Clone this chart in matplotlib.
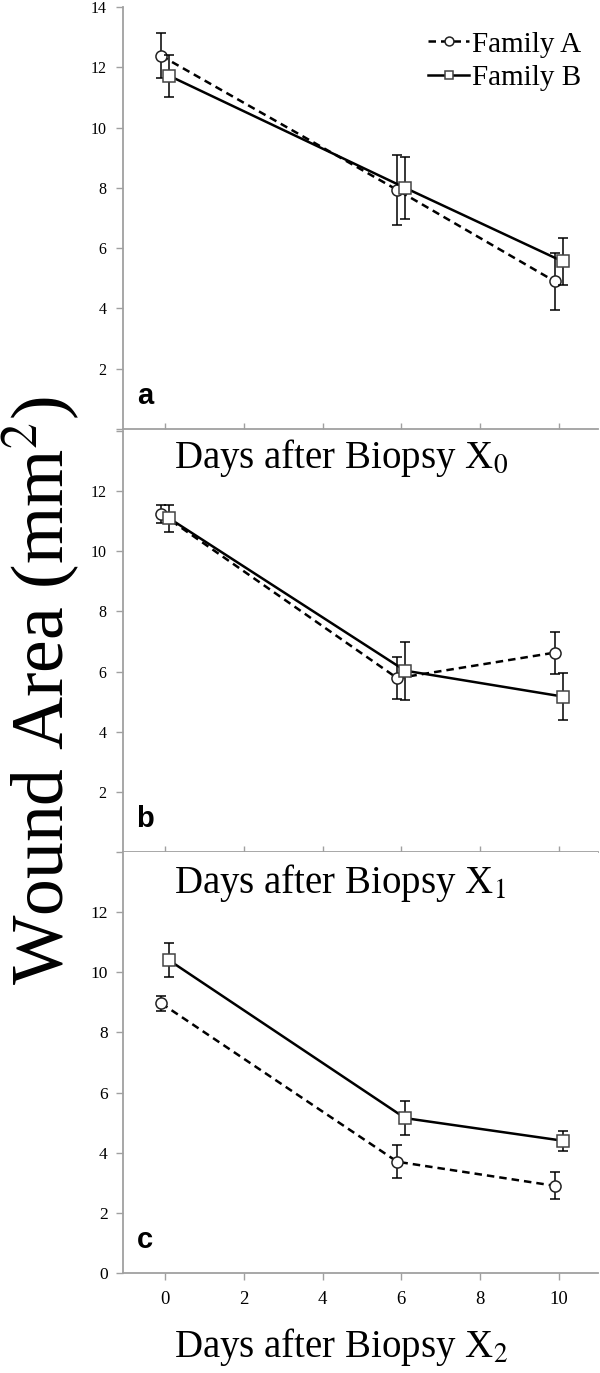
import matplotlib
matplotlib.use('Agg')
import matplotlib.pyplot as plt

plt.rcParams['font.family'] = ['Liberation Serif', 'DejaVu Serif']
plt.rcParams['mathtext.fontset'] = 'stix'

days = [0, 6, 10]
day_ticks = [0, 2, 4, 6, 8, 10]

# panel a (X0)
a_fam_a     = [12.38, 7.93, 4.90]
a_fam_a_err = [0.75, 1.17, 0.95]
a_fam_b     = [11.72, 8.00, 5.56]
a_fam_b_err = [0.70, 1.02, 0.78]

# panel b (X1)
b_fam_a     = [11.25, 5.78, 6.63]
b_fam_a_err = [0.30, 0.70, 0.70]
b_fam_b     = [11.10, 6.03, 5.17]
b_fam_b_err = [0.45, 0.97, 0.78]

# panel c (X2)
c_fam_a     = [8.97, 3.70, 2.90]
c_fam_a_err = [0.25, 0.55, 0.45]
c_fam_b     = [10.40, 5.15, 4.40]
c_fam_b_err = [0.57, 0.57, 0.33]

panels = [
    ('a', 'Days after Biopsy X$_0$', a_fam_a, a_fam_a_err, a_fam_b, a_fam_b_err),
    ('b', 'Days after Biopsy X$_1$', b_fam_a, b_fam_a_err, b_fam_b, b_fam_b_err),
    ('c', 'Days after Biopsy X$_2$', c_fam_a, c_fam_a_err, c_fam_b, c_fam_b_err),
]

H = 1373.0
fig = plt.figure(figsize=(6, 13.73), dpi=100)

# axes boxes in pixels (top, bottom)
boxes = [(7, 429), (431, 852), (852, 1273)]
label_base = [468, 893, 1357]
left, right = 123 / 600, 598 / 600
grey = '#a0a0a0'

for i, (tag, xlab, fa, fa_err, fb, fb_err) in enumerate(panels):
    top, bot = boxes[i]
    ax = fig.add_axes([left, 1 - bot / H, right - left, (bot - top) / H])

    xa = [d - 0.1 for d in days]
    xb = [d + 0.1 for d in days]
    eb_a = ax.errorbar(xa, fa, yerr=fa_err, color='black', ls=(0, (3, 2)), lw=1.8,
                       marker='o', ms=8, mfc='white', mec='#222222', mew=1.1,
                       ecolor='black', elinewidth=1.1, capsize=3.5, capthick=1.1,
                       zorder=3)
    eb_b = ax.errorbar(xb, fb, yerr=fb_err, color='black', ls='-', lw=1.8,
                       marker='s', ms=8, mfc='white', mec='#444444', mew=1.1,
                       ecolor='black', elinewidth=1.1, capsize=3.5, capthick=1.1,
                       zorder=4)

    ax.set_xlim(-1.07, 11.0)
    ax.set_ylim(0, 14)
    for s in ['top', 'right']:
        ax.spines[s].set_visible(False)
    for s in ['left', 'bottom']:
        ax.spines[s].set_color(grey)
        ax.spines[s].set_linewidth(1.3)
    ax.set_xticks(day_ticks)

    if tag == 'c':
        ax.set_yticks(range(0, 13, 2))
        ax.tick_params(axis='y', labelsize=12.5, length=5, width=1, color=grey, pad=6)
        ax.tick_params(axis='x', labelsize=13.5, length=5, width=1, color=grey, pad=8)
    else:
        ax.set_yticks(range(0, 15, 2))
        ylabs = [str(v) if v != 0 else '' for v in range(0, 15, 2)]
        if tag == 'b':
            ylabs[-1] = ''
        ax.set_yticklabels(ylabs)
        ax.tick_params(axis='y', labelsize=11.5, length=5, width=1, color=grey, pad=7)
        ax.tick_params(axis='x', direction='in', length=4, width=1, color=grey,
                       labelbottom=False)

    ax.text(0.046, 0.045, tag, transform=ax.transAxes, fontsize=21,
            fontweight='bold', family='Liberation Sans', ha='center', va='bottom')

    fig.text(174 / 600, 1 - label_base[i] / H, xlab, fontsize=28,
             ha='left', va='baseline')

    if tag == 'a':
        ax.legend([eb_a.lines[0], eb_b.lines[0]], ['Family A', 'Family B'],
                  loc='upper right', bbox_to_anchor=(1.02, 1.005), frameon=False,
                  fontsize=21, handlelength=1.4, handletextpad=0.1,
                  labelspacing=0.25, markerscale=0.8)

fig.text(42 / 600, 1 - 690 / H, 'Wound Area (mm$^2$)', fontsize=53,
         rotation=90, ha='center', va='center')

fig.savefig('out.png', dpi=100)
